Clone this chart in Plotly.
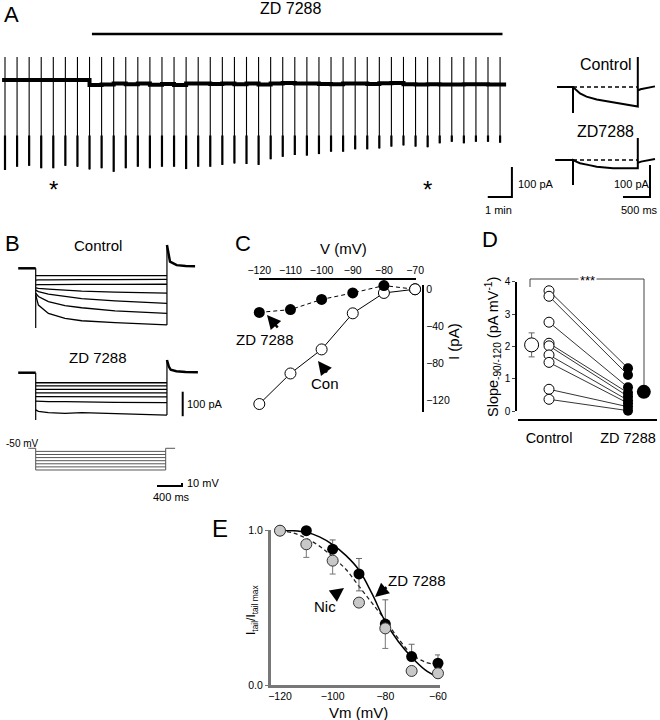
import plotly.graph_objects as go

W, H = 660, 720
FONT = "Arial, Liberation Sans, sans-serif"

# ---------------- values ----------------
# A: long recording, one hyperpolarising step every 30 s (time in min, current in pA)
a_pulse_t = [0.0, 0.5, 1.0, 1.5, 2.0, 2.5, 3.0, 3.5, 4.0, 4.5, 5.0, 5.5, 6.0, 6.5,
             7.0, 7.5, 8.0, 8.5, 9.0, 9.5, 10.0, 10.5, 11.0, 11.5, 12.0, 12.5, 13.0, 13.5,
             14.0, 14.5, 15.0, 15.5, 16.0, 16.5, 17.0, 17.5, 18.0, 18.5, 19.0, 19.5, 20.0, 20.5]
a_pulse_min = [-300, -289, -286, -294, -294, -286, -289, -298, -294, -306, -294, -289, -294, -289,
               -289, -297, -289, -289, -283, -278, -280, -283, -264, -256, -250, -252, -247, -239,
               -239, -231, -231, -228, -222, -218, -222, -224, -211, -206, -211, -206, -206, -209]
a_baseline = [0, 0, 0, 0, 0, 0, 0, -17, -15, -12, -14, -12, -16, -13,
              -17, -12, -12, -13, -12, -14, -12, -15, -12, -10, -12, -12, -13, -14,
              -12, -12, -13, -11, -10, -14, -15, -14, -15, -15, -14, -14, -15, -15]
a_peak = 77
a_inst = -185
a_zd_bar = [3.6, 20.6]
a_star_t = [2.0, 17.5]

# A insets (ms, pA)
a_ctrl_t = [-296, 0, 0, 0, 50, 130, 250, 439, 600, 741, 900, 1056, 1200, 1200, 1200, 1250, 1350, 1518]
a_ctrl_i = [0, 0, -81, 0, -8, -20, -30, -39, -44, -48, -52, -56, -61, 94, -11, -7, -3, 2]
a_zdi_t = [-330, 0, 0, 0, 60, 130, 300, 439, 741, 1000, 1200, 1200, 1200, 1260, 1400, 1518]
a_zdi_i = [0, 0, -78, 0, -5, -10, -16, -21, -26, -27, -26, 69, -9, -5, -1, 3]
a_step = [0, 1200]

# B: current families (ms, pA) and voltage protocol (mV)
b_t = [0, 43, 203, 469, 736, 1269, 2100]
b_ctrl = [[-30, -30, -30, -31, -30, -31, -30],
          [-48, -47, -47, -46, -46, -46, -45],
          [-68, -67, -67, -66, -66, -66, -65],
          [-80, -82, -85, -89, -93, -97, -101],
          [-89, -95, -105, -116, -124, -133, -143],
          [-101, -115, -136, -152, -161, -174, -184],
          [-109, -150, -184, -204, -214, -222, -231]]
b_zd = [[-41, -41, -41, -42, -41, -41, -41],
        [-54, -54, -54, -55, -54, -54, -54],
        [-68, -68, -67, -68, -68, -67, -68],
        [-82, -82, -82, -83, -82, -82, -82],
        [-98, -98, -99, -98, -99, -98, -99],
        [-116, -117, -118, -118, -120, -121, -122],
        [-152, -158, -163, -166, -163, -168, -173]]
b_ctrl_cap = [-244, 95]
b_zd_cap = [-193, 52]
b_ctrl_tail_t = [2100, 2130, 2149, 2256, 2400, 2550]
b_ctrl_tail_i = [95, 50, 27, 13, 9, 8]
b_zd_tail_t = [2100, 2130, 2160, 2250, 2400, 2595]
b_zd_tail_i = [52, 25, 12, 6, 3, 2]
b_hold = -50
b_vsteps = [-60, -70, -80, -90, -100, -110, -120]
b_vstep_t = [0, 2080]

# C: I-V (mV, pA)
c_v = [-120, -110, -100, -90, -80, -70]
c_con = [-124, -91, -65, -26, -4, 0]
c_zd = [-25, -22, -11, -4, 4, 0]

# D: slope -90/-120 (pA/mV)
d_ctrl = [3.72, 3.55, 2.75, 2.10, 2.02, 1.74, 1.51, 0.68, 0.37]
d_zd = [1.33, 1.12, 0.74, 0.57, 0.46, 0.34, 0.25, 0.14, 0.02]
d_mean = [2.05, 0.6]
d_sem = [0.37, 0.04]

# E: normalised tail currents
e_v = [-120, -110, -100, -90, -80, -70, -60]
e_zd = [1.0, 1.0, 0.88, 0.72, 0.395, 0.184, 0.141]
e_zd_up = [0, 0.065, 0.06, 0.1, 0.157, 0.08, 0.054]
e_zd_dn = [0, 0, 0, 0.11, 0, 0, 0]
e_nic = [1.0, 0.912, 0.806, 0.534, 0.367, 0.091, 0.076]
e_nic_up = [0, 0, 0, 0, 0, 0, 0]
e_nic_dn = [0, 0.085, 0.087, 0, 0.13, 0, 0]
e_fit_v = [-120, -115, -110, -105, -100, -95, -90, -85, -80, -75, -70, -65, -60]
e_fit_zd = [1.0, 1.0, 0.99, 0.96, 0.91, 0.84, 0.745, 0.59, 0.41, 0.28, 0.18, 0.10, 0.05]
e_fit_nic = [1.0, 0.985, 0.95, 0.90, 0.83, 0.75, 0.64, 0.53, 0.42, 0.30, 0.20, 0.15, 0.13]


def fx(px):
    return px / W


def fy(py):
    return 1 - py / H


fig = go.Figure()


def line(x, y, ax, width=1.2, color="black", dash=None, shape="linear"):
    fig.add_trace(go.Scatter(x=x, y=y, mode="lines", xaxis="x" + ax, yaxis="y" + ax,
                             line=dict(color=color, width=width, dash=dash, shape=shape),
                             hoverinfo="skip", showlegend=False))


# ---- A main trace ----
px_, py_ = [], []
for t, m in zip(a_pulse_t, a_pulse_min):
    px_ += [t, t, None]
    py_ += [a_peak, m, None]
line(px_, py_, "1", width=1.1)
px_, py_ = [], []
for t, m in zip(a_pulse_t, a_pulse_min):
    px_ += [t, t, None]
    py_ += [a_inst, m, None]
line(px_, py_, "1", width=2.2)
line([-0.12] + a_pulse_t + [20.75], [0] + a_baseline + [a_baseline[-1]], "1", width=4, shape="hv")
line([19.99, 20.99, 20.99], [-390, -390, -290], "1", width=2)

# ---- A insets ----
line(a_ctrl_t, a_ctrl_i, "2", width=2)
line(a_step, [0, 0], "2", width=1.5, dash="4px,3px")
line(a_zdi_t, a_zdi_i, "3", width=2)
line(a_step, [0, 0], "3", width=1.5, dash="4px,3px")
line([926, 1426, 1426], [-115.6, -115.6, -15.6], "3", width=2)

# ---- B families ----
for ax, fam, cap, tt, ti in [("4", b_ctrl, b_ctrl_cap, b_ctrl_tail_t, b_ctrl_tail_i),
                             ("5", b_zd, b_zd_cap, b_zd_tail_t, b_zd_tail_i)]:
    for lvl in fam:
        line(b_t, lvl, ax, width=1.3)
    line([-280, 0], [0, 0], ax, width=2.5)
    line([0, 0], [0, cap[0]], ax, width=1.2)
    line([b_t[-1], b_t[-1]], [fam[-1][-1], cap[1]], ax, width=1.2)
    line(tt, ti, ax, width=2.5)
line([2352, 2352], [-77.6, -177.6], "5", width=2)

# protocol
line([-118, 0], [b_hold, b_hold], "6", width=1, color="#555")
for v in b_vsteps:
    line(b_vstep_t, [v, v], "6", width=1, color="#555")
line([0, 0], [b_hold, b_vsteps[-1]], "6", width=1, color="#555")
line([b_vstep_t[1], b_vstep_t[1]], [b_hold, b_vsteps[-1]], "6", width=1, color="#555")
line([b_vstep_t[1], 2230], [b_hold, b_hold], "6", width=1, color="#555")
line([1941, 2341, 2341], [-171.6, -171.6, -161.6], "6", width=2)

# ---- C ----
fig.add_trace(go.Scatter(x=c_v, y=c_con, mode="lines+markers", xaxis="x7", yaxis="y7",
                         line=dict(color="black", width=1),
                         marker=dict(size=11, color="white", line=dict(color="black", width=1)),
                         cliponaxis=False, hoverinfo="skip", showlegend=False))
fig.add_trace(go.Scatter(x=c_v, y=c_zd, mode="lines+markers", xaxis="x7", yaxis="y7",
                         line=dict(color="black", width=1, dash="4px,3px"),
                         marker=dict(size=11, color="black"),
                         cliponaxis=False, hoverinfo="skip", showlegend=False))
# redraw open -70 point on top
fig.add_trace(go.Scatter(x=c_v[-1:], y=c_con[-1:], mode="markers", xaxis="x7", yaxis="y7",
                         marker=dict(size=11, color="white", line=dict(color="black", width=1)),
                         cliponaxis=False, hoverinfo="skip", showlegend=False))

# ---- D ----
for c, z in zip(d_ctrl, d_zd):
    fig.add_trace(go.Scatter(x=[1, 2], y=[c, z], mode="lines", xaxis="x8", yaxis="y8",
                             line=dict(color="black", width=0.8), cliponaxis=False,
                             hoverinfo="skip", showlegend=False))
fig.add_trace(go.Scatter(x=[1] * len(d_ctrl), y=d_ctrl, mode="markers", xaxis="x8", yaxis="y8",
                         marker=dict(size=10, color="white", line=dict(color="black", width=1)),
                         cliponaxis=False, hoverinfo="skip", showlegend=False))
fig.add_trace(go.Scatter(x=[2] * len(d_zd), y=d_zd, mode="markers", xaxis="x8", yaxis="y8",
                         marker=dict(size=10, color="black"),
                         cliponaxis=False, hoverinfo="skip", showlegend=False))
fig.add_trace(go.Scatter(x=[0.78], y=d_mean[:1], mode="markers", xaxis="x8", yaxis="y8",
                         error_y=dict(type="data", array=d_sem[:1], color="#666", thickness=1, width=3),
                         marker=dict(size=14, color="white", line=dict(color="black", width=1)),
                         cliponaxis=False, hoverinfo="skip", showlegend=False))
fig.add_trace(go.Scatter(x=[2.2], y=d_mean[1:], mode="markers", xaxis="x8", yaxis="y8",
                         marker=dict(size=14, color="black"),
                         cliponaxis=False, hoverinfo="skip", showlegend=False))

# ---- E ----
line(e_fit_v, e_fit_nic, "9", width=1.3, color="#222", dash="4px,3px", shape="spline")
line(e_fit_v, e_fit_zd, "9", width=1.5, shape="spline")
fig.add_trace(go.Scatter(x=e_v, y=e_zd, mode="markers", xaxis="x9", yaxis="y9",
                         error_y=dict(type="data", array=e_zd_up, arrayminus=e_zd_dn,
                                      color="#666", thickness=1, width=3),
                         marker=dict(size=11, color="black"),
                         cliponaxis=False, hoverinfo="skip", showlegend=False))
fig.add_trace(go.Scatter(x=e_v, y=e_nic, mode="markers", xaxis="x9", yaxis="y9",
                         error_y=dict(type="data", array=e_nic_up, arrayminus=e_nic_dn,
                                      color="#777", thickness=1, width=3),
                         marker=dict(size=11, color="#c8c8c8", line=dict(color="#333", width=1)),
                         cliponaxis=False, hoverinfo="skip", showlegend=False))


# ---------------- axes ----------------
def hidden(n, xd, yd, xr, yr):
    k = "" if n == 1 else str(n)
    fig.layout["xaxis" + k] = dict(domain=[fx(xd[0]), fx(xd[1])], range=xr, visible=False,
                                   anchor="y" + k, automargin=False)
    fig.layout["yaxis" + k] = dict(domain=[fy(yd[1]), fy(yd[0])], range=yr, visible=False,
                                   anchor="x" + k, automargin=False)


hidden(1, (0, 520), (20, 200), [-0.207, 21.325], [-400, 200])
hidden(2, (540, 660), (45, 125), [-611.1, 1611.1], [-118.75, 131.25])
hidden(3, (540, 660), (125, 205), [-611.1, 1611.1], [-140.6, 109.4])
hidden(4, (0, 220), (235, 335), [-571.2, 2948.8], [-272.2, 135.9])
hidden(5, (0, 220), (345, 435), [-571.2, 2948.8], [-254.3, 113.1])
hidden(6, (0, 220), (438, 500), [-571.2, 2948.8], [-216.8, -16.8])

tick_font = dict(family=FONT, size=10.5, color="black")
fig.update_layout(
    xaxis7=dict(domain=[fx(259), fx(416)], range=[-120.1, -69.7], side="top", anchor="free",
                position=fy(279), showline=True, linecolor="black", linewidth=1.5,
                showgrid=False, zeroline=False, tickvals=c_v, ticks="", automargin=False,
                tickfont=dict(family=FONT, size=10.5, color="black")),
    yaxis7=dict(domain=[fy(411.7), fy(285)], range=[-132.3, 4.6], side="right", anchor="free",
                position=fx(423.3), showline=True, linecolor="black", linewidth=1.5,
                showgrid=False, zeroline=False, tickvals=[0, -40, -80, -120], ticks="",
                automargin=False, tickfont=dict(family=FONT, size=10.5, color="black")),
    xaxis8=dict(domain=[fx(518), fx(657)], range=[0.6076, 2.367], anchor="free", position=fy(420),
                showline=True, linecolor="black", linewidth=2, showgrid=False, zeroline=False,
                tickvals=[1, 2], ticktext=["Control", "ZD 7288"], ticks="", ticklabelstandoff=5,
                automargin=False, tickfont=dict(family=FONT, size=14.5, color="black")),
    yaxis8=dict(domain=[fy(411.3), fy(281.7)], range=[0, 4], anchor="free", position=fx(516),
                showline=True, linecolor="black", linewidth=1.5, showgrid=False, zeroline=False,
                tickvals=[0, 1, 2, 3, 4], ticks="outside", ticklen=3, automargin=False,
                tickfont=dict(family=FONT, size=10, color="black")),
    xaxis9=dict(domain=[fx(270.7), fx(440)], range=[-123.53, -59.23], anchor="y9",
                showline=True, linecolor="#777", linewidth=2.5, showgrid=False, zeroline=False,
                tickvals=[-120, -100, -80, -60], ticks="", automargin=False, tickfont=tick_font),
    yaxis9=dict(domain=[fy(685), fy(530)], range=[0, 1.0045], anchor="x9",
                showline=True, linecolor="#777", linewidth=2.5, showgrid=False, zeroline=False,
                tickvals=[0, 1], ticktext=["0.0", "1.0"], ticks="outside", ticklen=3,
                tickcolor="#777", automargin=False, tickfont=tick_font),
)

# ---------------- text ----------------
ann = []


def text(s, x, y, size, angle=0, xanchor="center", bg=None):
    ann.append(dict(text=s, x=fx(x), y=fy(y), xref="paper", yref="paper", showarrow=False,
                    xanchor=xanchor, yanchor="middle", textangle=angle,
                    bgcolor=bg, font=dict(family=FONT, size=size, color="black")))


def arrow(head, tail):
    ann.append(dict(text="", x=fx(head[0]), y=fy(head[1]), xref="paper", yref="paper",
                    ax=tail[0] - head[0], ay=tail[1] - head[1], showarrow=True,
                    arrowhead=2, arrowsize=1.1, arrowwidth=2.5, arrowcolor="black", standoff=0))


text("A", 11, 14, 22)
text("ZD 7288", 290, 9, 16)
text("Control", 606, 64, 16)
text("ZD7288", 605, 131, 16)
text("100 pA", 516, 184, 11, xanchor="left")
text("100 pA", 632, 184, 11)
text("1 min", 498, 210, 11)
text("500 ms", 639, 210, 11)
for t in a_star_t:
    ann.append(dict(text="*", x=t, y=fy(190), xref="x", yref="paper", showarrow=False,
                    yanchor="middle", font=dict(family=FONT, size=24, color="black")))

text("B", 12, 243, 22)
text("Control", 98, 245, 15)
text("ZD 7288", 98, 357, 15)
text("100 pA", 185, 404, 11, xanchor="left")
text("-50 mV", 22, 443, 10)
text("10 mV", 185, 483, 11, xanchor="left")
text("400 ms", 171, 497, 11)

text("C", 243, 243, 22)
text("V (mV)", 343, 248, 15)
text("I (pA)", 453, 342, 15, angle=-90)
text("ZD 7288", 265, 339, 15)
text("Con", 325, 383, 15)
arrow((267, 315), (279, 329))
arrow((318, 361), (328, 374))

text("D", 490, 240, 22)
text("Slope<sub>-90/-120</sub> (pA mV<sup>-1</sup>)", 493, 347, 14.5, angle=-90)
text("***", 587, 281, 13, bg="white")

text("E", 220, 528, 24)
text("I<sub>tail</sub>/I<sub>tail max</sub>", 252, 610, 12, angle=-90)
text("Vm (mV)", 358, 712, 15)
text("ZD 7288", 417, 580, 15)
text("Nic", 325, 606, 15)
arrow((375, 597), (388, 586))
arrow((344, 588), (333, 596))

# ZD application bar in A and significance bracket in D
shapes = [
    dict(type="line", xref="x", yref="paper", x0=a_zd_bar[0], x1=a_zd_bar[1], y0=fy(34), y1=fy(34),
         line=dict(color="black", width=2.5)),
    dict(type="line", xref="paper", yref="paper", x0=fx(530), x1=fx(644), y0=fy(279), y1=fy(279),
         line=dict(color="#444", width=1)),
    dict(type="line", xref="paper", yref="paper", x0=fx(530), x1=fx(530), y0=fy(279), y1=fy(287),
         line=dict(color="#444", width=1)),
    dict(type="line", xref="paper", yref="paper", x0=fx(644), x1=fx(644), y0=fy(279), y1=fy(385),
         line=dict(color="#444", width=1)),
]

fig.update_layout(width=W, height=H, margin=dict(l=0, r=0, t=0, b=0, autoexpand=False),
                  paper_bgcolor="white", plot_bgcolor="white",
                  annotations=ann, shapes=shapes, showlegend=False,
                  font=dict(family=FONT, color="black"))
fig.write_html("out.html", config={"displayModeBar": False},
               post_script="document.body.style.margin='0';")
